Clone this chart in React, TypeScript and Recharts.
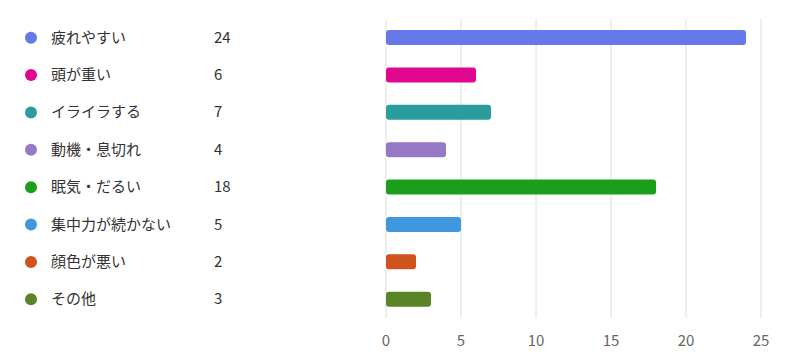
import React from 'react';
import { BarChart, Bar, XAxis, YAxis, CartesianGrid, Cell } from 'recharts';

const categories = ['疲れやすい', '頭が重い', 'イライラする', '動機・息切れ', '眠気・だるい', '集中力が続かない', '顔色が悪い', 'その他'];
const counts = [24, 6, 7, 4, 18, 5, 2, 3];
const colors = ['#6579e8', '#e0068e', '#2c9d9f', '#9678c4', '#1b9e1b', '#3f98dd', '#d0521c', '#5a8526'];
const xTicks = [0, 5, 10, 15, 20, 25];

const data = categories.map((name, i) => ({ name, value: counts[i], color: colors[i] }));

const FONT = '"Noto Sans CJK JP", "Noto Sans", sans-serif';

// left-hand legend drawn as the category axis tick
const LegendTick = (props: any) => {
  const { y, payload } = props;
  const i = categories.indexOf(payload.value);
  return (
    <g>
      <circle cx={23} cy={y} r={6} fill={colors[i]} />
      <text x={43} y={y} dy={5} fontSize={15} fill="#333" fontFamily={FONT}>{payload.value}</text>
      <text x={206} y={y} dy={5} fontSize={15} fill="#333" fontFamily={FONT}>{counts[i]}</text>
    </g>
  );
};

export default function App() {
  return (
    <BarChart
      width={790}
      height={341}
      data={data}
      layout="vertical"
      margin={{ top: 11, right: 37, left: 0, bottom: 1 }}
      barCategoryGap={11}
    >
      <CartesianGrid horizontal={false} stroke="#dedede" />
      <XAxis
        type="number"
        domain={[0, 25]}
        ticks={xTicks}
        height={30}
        axisLine={false}
        tickLine={false}
        tick={{ fontSize: 15, fill: '#666', fontFamily: FONT, dy: 9 }}
      />
      <YAxis
        type="category"
        dataKey="name"
        width={378}
        axisLine={false}
        tickLine={false}
        tick={<LegendTick />}
      />
      <Bar dataKey="value" barSize={15} radius={3} isAnimationActive={false}>
        {data.map((d) => (
          <Cell key={d.name} fill={d.color} />
        ))}
      </Bar>
    </BarChart>
  );
}
